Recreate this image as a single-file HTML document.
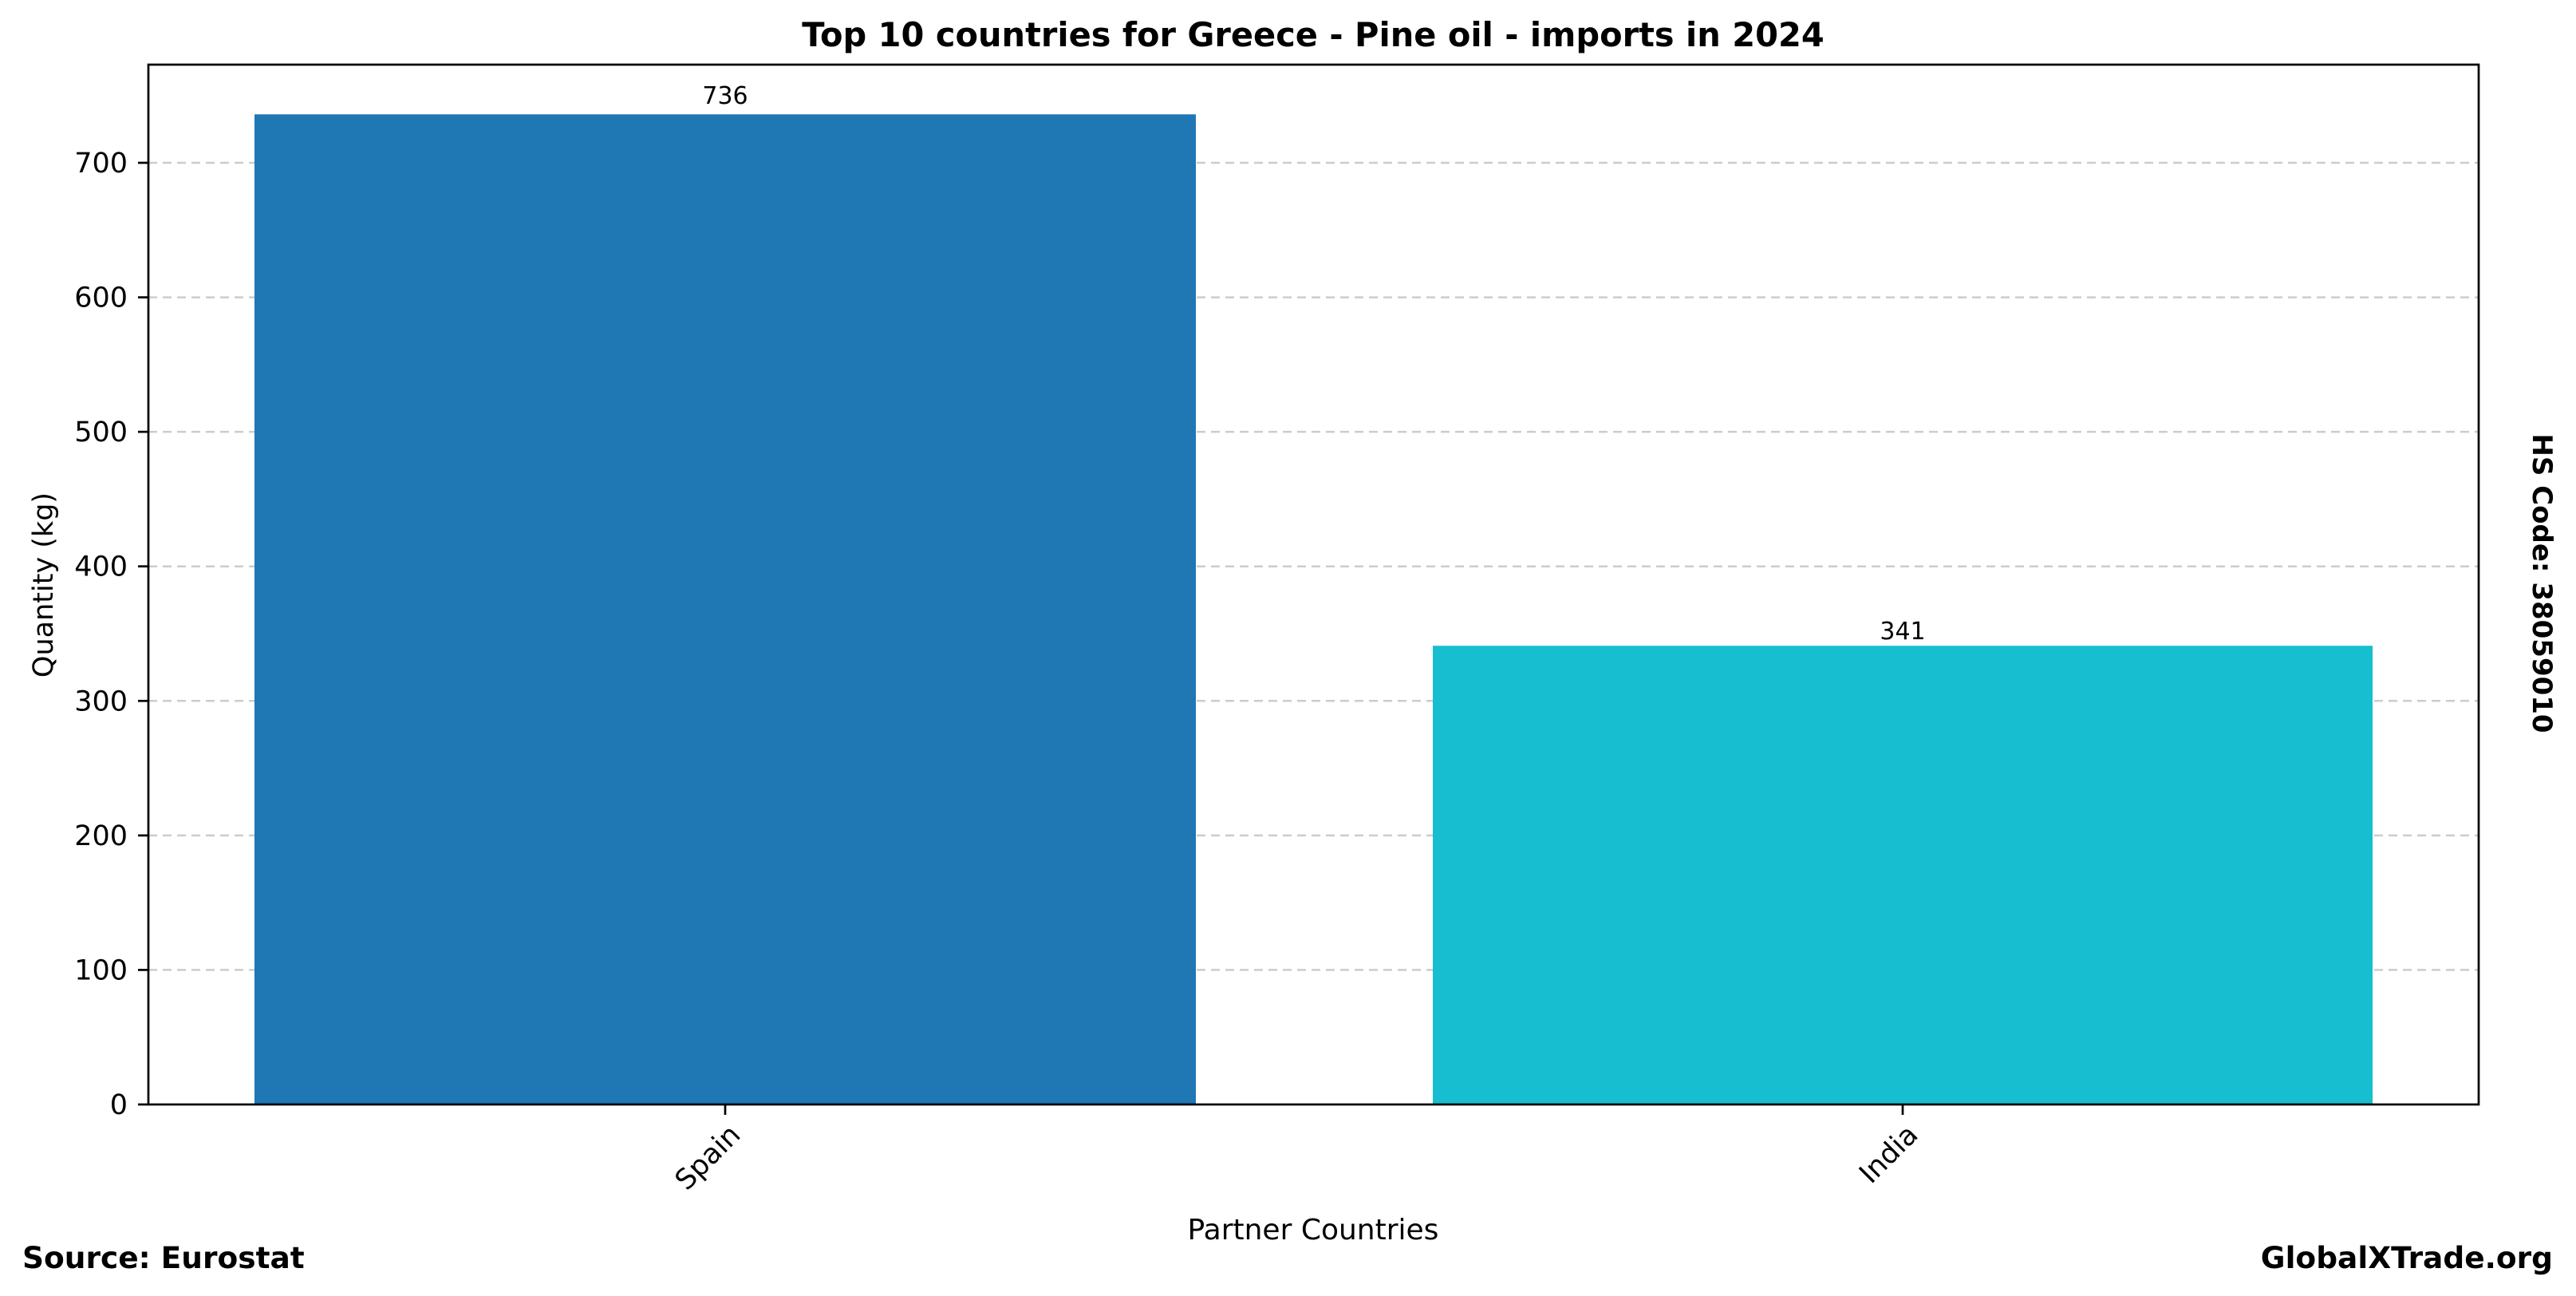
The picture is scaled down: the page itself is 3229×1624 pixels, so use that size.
<!DOCTYPE html>
<html><head><meta charset="utf-8"><style>
html,body{margin:0;padding:0;background:#fff;}
svg{display:block;font-family:"DejaVu Sans","Liberation Sans",sans-serif;}
</style></head><body>
<svg width="3229" height="1624" viewBox="0 0 3229 1624" xmlns="http://www.w3.org/2000/svg">
<rect width="3229" height="1624" fill="#fff"/>
<g stroke="#cccccc" stroke-width="2.5" stroke-dasharray="11,7">
<line x1="186" x2="3107" y1="1215.4" y2="1215.4"/>
<line x1="186" x2="3107" y1="1046.9" y2="1046.9"/>
<line x1="186" x2="3107" y1="878.3" y2="878.3"/>
<line x1="186" x2="3107" y1="709.7" y2="709.7"/>
<line x1="186" x2="3107" y1="541.1" y2="541.1"/>
<line x1="186" x2="3107" y1="372.6" y2="372.6"/>
<line x1="186" x2="3107" y1="204" y2="204"/>
</g>
<rect x="319" y="143.3" width="1180" height="1240.7" fill="#1f77b4"/>
<rect x="1796" y="809.2" width="1178" height="574.8" fill="#17becf"/>
<rect x="186" y="81" width="2921" height="1303" fill="none" stroke="#000" stroke-width="2.7"/>
<g stroke="#000" stroke-width="2.7">
<line x1="173" x2="186" y1="1384" y2="1384"/>
<line x1="173" x2="186" y1="1215.4" y2="1215.4"/>
<line x1="173" x2="186" y1="1046.9" y2="1046.9"/>
<line x1="173" x2="186" y1="878.3" y2="878.3"/>
<line x1="173" x2="186" y1="709.7" y2="709.7"/>
<line x1="173" x2="186" y1="541.1" y2="541.1"/>
<line x1="173" x2="186" y1="372.6" y2="372.6"/>
<line x1="173" x2="186" y1="204" y2="204"/>
<line x1="909" x2="909" y1="1384" y2="1397"/>
<line x1="2385" x2="2385" y1="1384" y2="1397"/>
</g>
<g font-size="35" text-anchor="end" fill="#000">
<text x="160" y="1396">0</text>
<text x="160" y="1227.4">100</text>
<text x="160" y="1058.9">200</text>
<text x="160" y="890.3">300</text>
<text x="160" y="721.7">400</text>
<text x="160" y="553.1">500</text>
<text x="160" y="384.6">600</text>
<text x="160" y="216">700</text>
</g>
<g font-size="35" text-anchor="end" fill="#000">
<text transform="translate(930,1424) rotate(-45)">Spain</text>
<text transform="translate(2406,1424) rotate(-45)">India</text>
</g>
<g font-size="30" text-anchor="middle" fill="#000">
<text x="909" y="130">736</text>
<text x="2385" y="801">341</text>
</g>
<text x="1646" y="1553" font-size="36" text-anchor="middle">Partner Countries</text>
<text transform="translate(66,733) rotate(-90)" font-size="35" text-anchor="middle">Quantity (kg)</text>
<text x="1646" y="58" font-size="41.5" font-weight="bold" text-anchor="middle">Top 10 countries for Greece - Pine oil - imports in 2024</text>
<text transform="translate(3175,731) rotate(90)" font-size="34" font-weight="bold" text-anchor="middle">HS Code: 38059010</text>
<text x="28" y="1589" font-size="37.5" font-weight="bold">Source: Eurostat</text>
<text x="3200" y="1589" font-size="37.5" font-weight="bold" text-anchor="end">GlobalXTrade.org</text>
</svg>
</body></html>
